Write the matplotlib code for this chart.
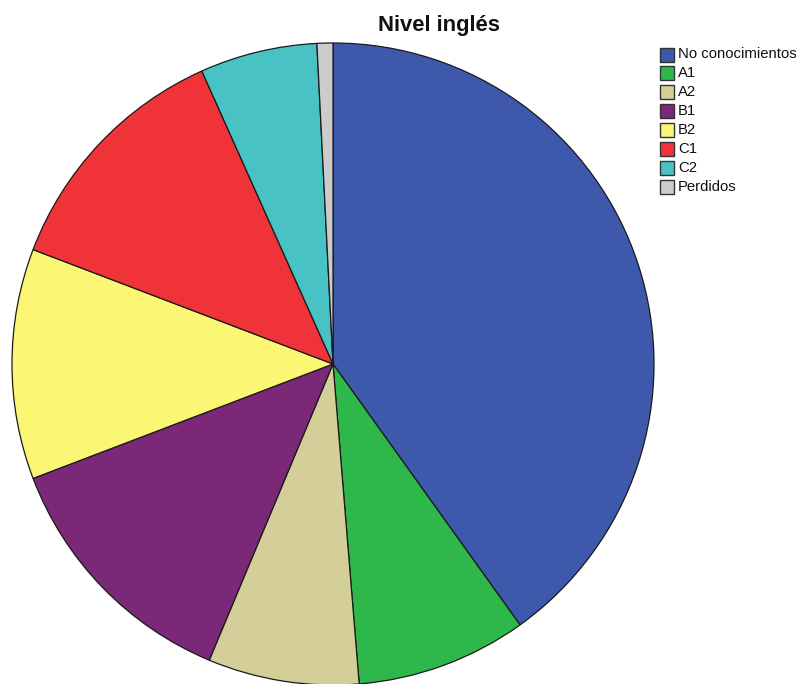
import matplotlib
matplotlib.use("Agg")
import matplotlib.pyplot as plt
from matplotlib.patches import Rectangle

plt.rcParams['font.family'] = ['Liberation Sans', 'DejaVu Sans']

title = "Nivel inglés"
categories = ["No conocimientos", "A1", "A2", "B1", "B2", "C1", "C2", "Perdidos"]
values = [40.1, 8.6, 7.6, 12.9, 11.6, 12.5, 5.9, 0.8]
colors = ["#3E58AC", "#2EB84B", "#D4CE99", "#7B2879", "#FBF774",
          "#EF3338", "#48C2C5", "#CCCCCC"]

W, H = 798, 684
fig = plt.figure(figsize=(W / 100, H / 100), dpi=100)
ax = fig.add_axes([0, 0, 1, 1])
ax.set_xlim(0, W)
ax.set_ylim(0, H)
ax.set_aspect('equal')
ax.axis('off')

ax.pie(values, colors=colors, startangle=90, counterclock=False,
       center=(333, H - 364), radius=321,
       wedgeprops=dict(edgecolor='#1a1a1a', linewidth=0.9))
ax.set_xlim(0, W)
ax.set_ylim(0, H)

ax.text(439, H - 25, title, ha='center', va='center',
        fontsize=15.8, fontweight='bold', color='#111111')

# legend drawn as a column of swatches
y0, step = 54.5, 18.9
for i, (lab, col) in enumerate(zip(categories, colors)):
    yc = H - (y0 + i * step)
    ax.add_patch(Rectangle((660, yc - 7), 14, 14, facecolor=col,
                           edgecolor='#333333', linewidth=1.0))
    ax.text(678, yc, lab, ha='left', va='center', fontsize=10.7, color='#111111')

fig.savefig("out.png", dpi=100)
